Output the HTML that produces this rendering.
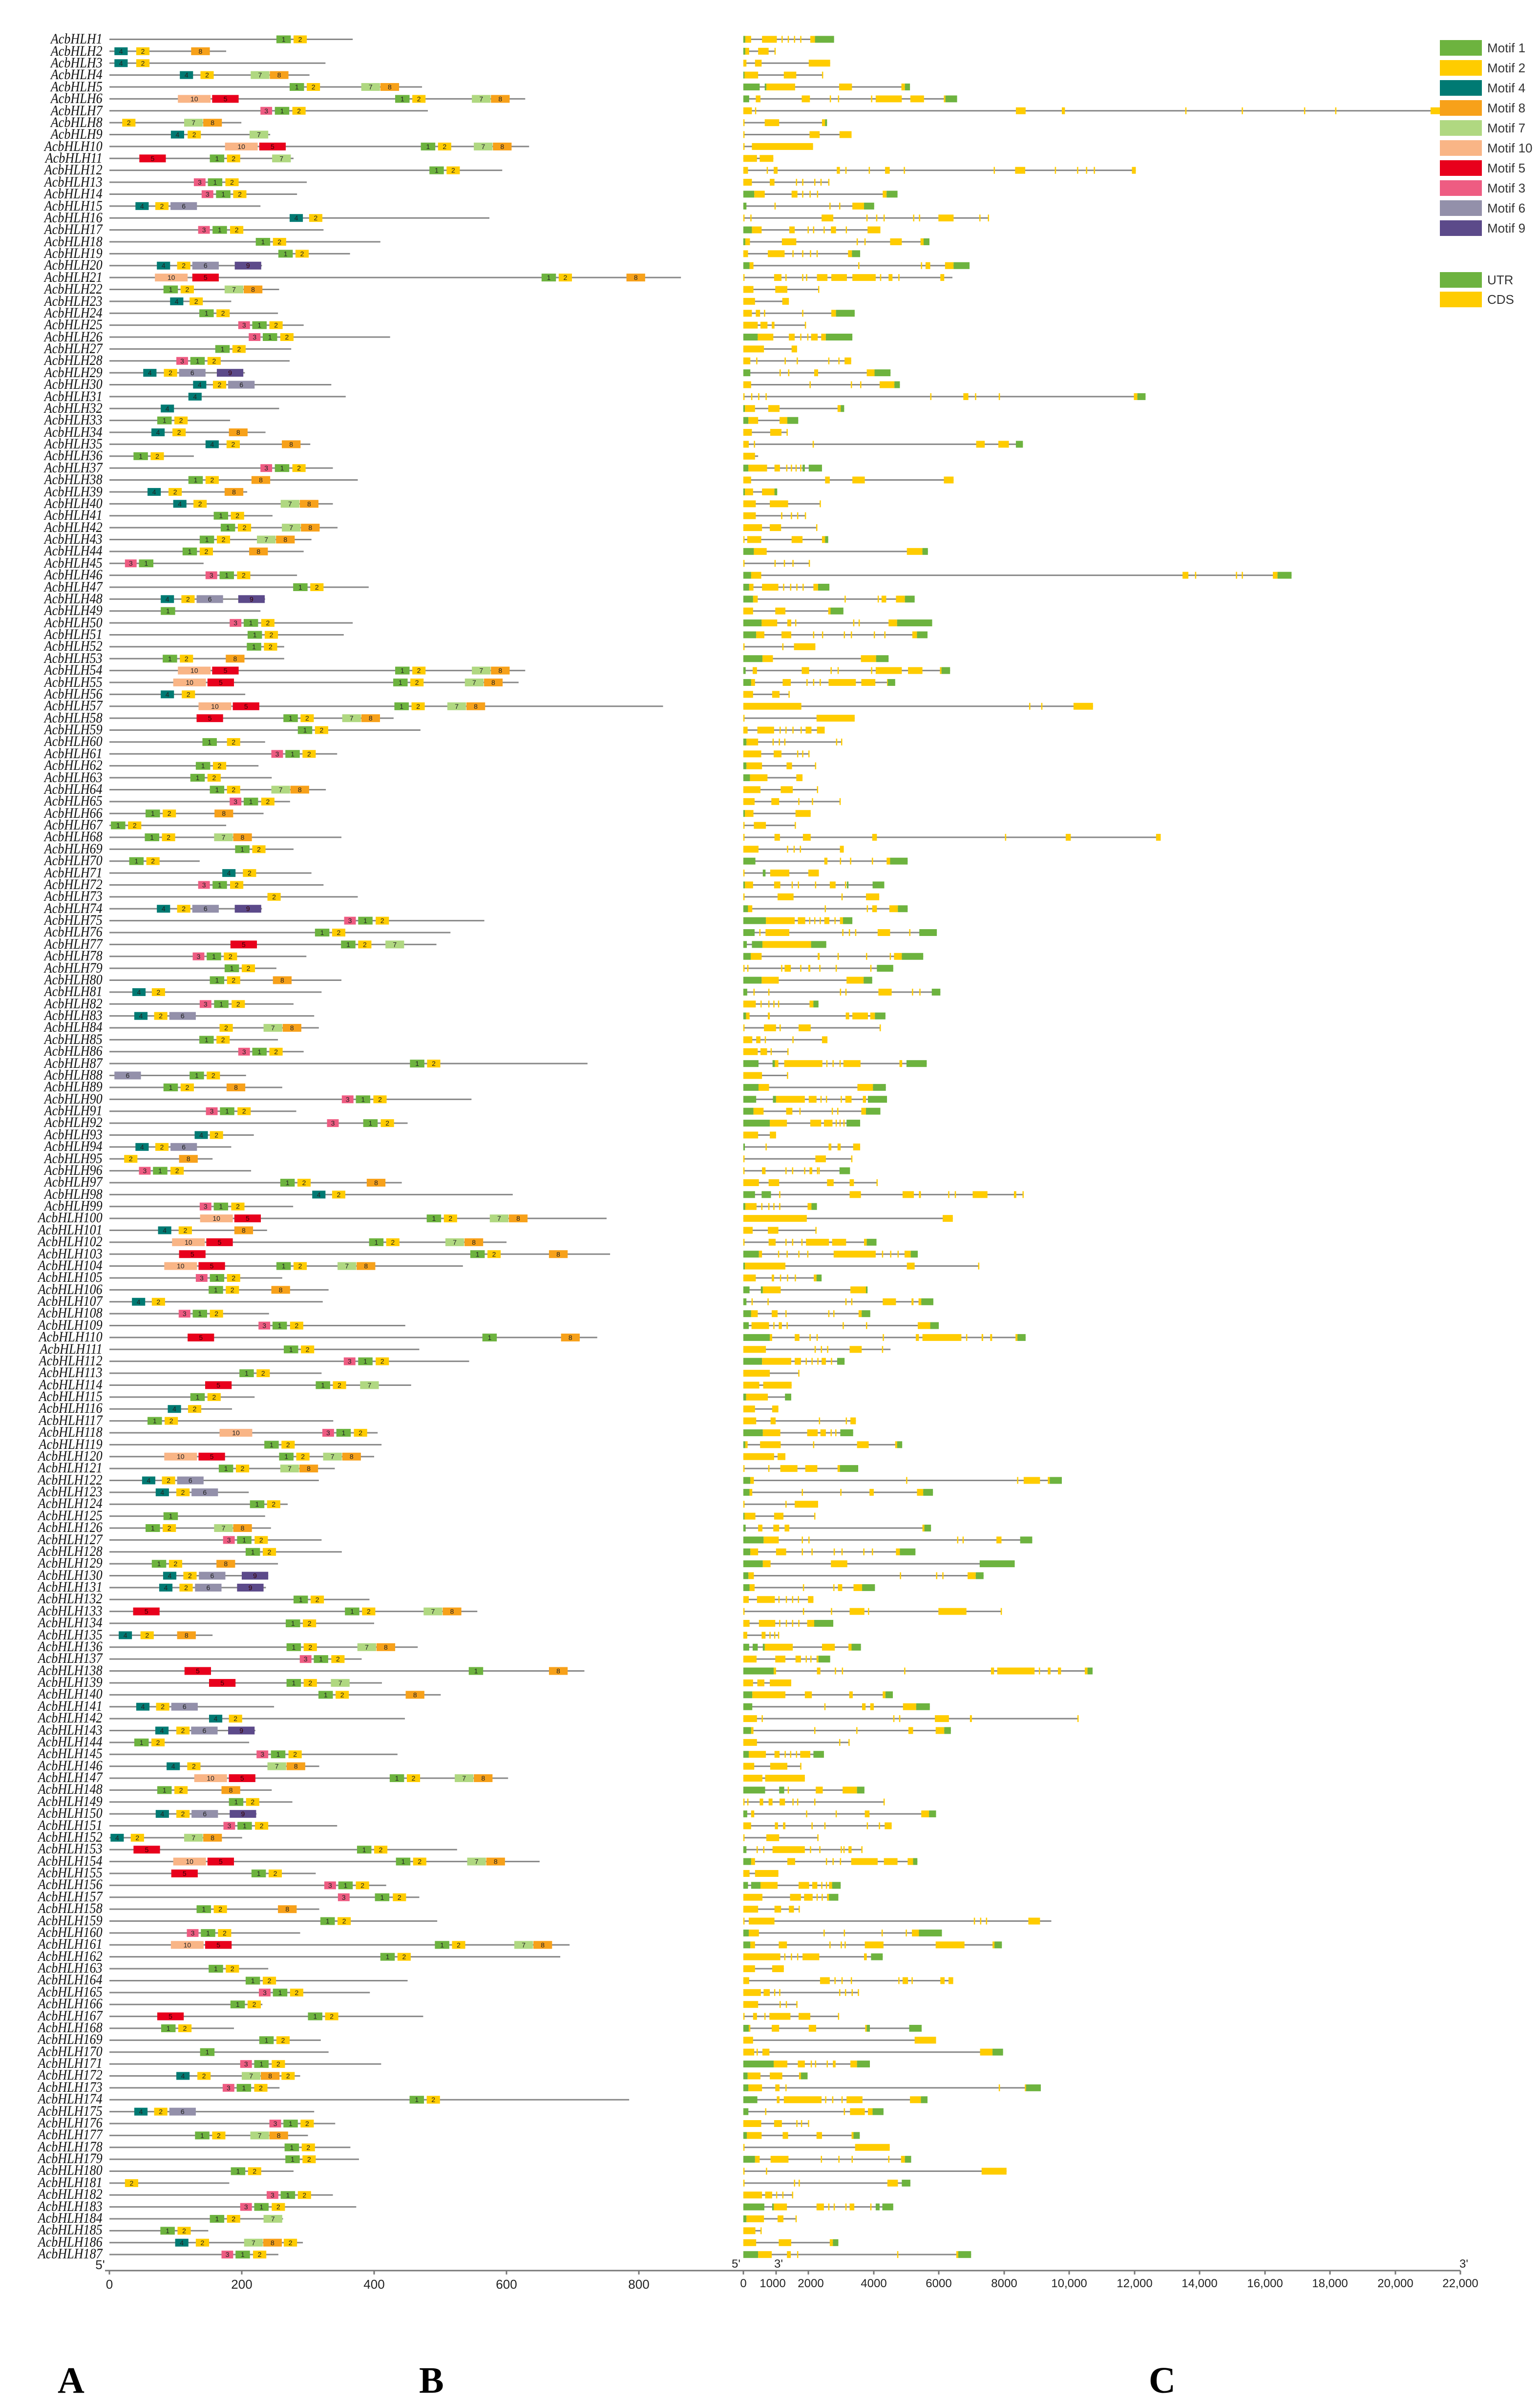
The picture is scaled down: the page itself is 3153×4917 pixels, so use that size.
<!DOCTYPE html>
<html><head><meta charset="utf-8">
<style>
html,body{margin:0;padding:0;background:#fff;}
body{width:3153px;height:4915px;position:relative;overflow:hidden;}
#names{position:absolute;right:2943px;top:68.3px;text-align:right;font-family:"Liberation Serif",serif;font-style:italic;font-size:30px;line-height:24.38px;color:#111;white-space:nowrap;transform:scaleX(0.87);transform-origin:right top;}
svg{position:absolute;left:0;top:0;}
.lab{position:absolute;font-family:"Liberation Serif",serif;font-weight:bold;font-size:76px;color:#000;}
</style></head><body>
<div id="names">AcbHLH1<br>AcbHLH2<br>AcbHLH3<br>AcbHLH4<br>AcbHLH5<br>AcbHLH6<br>AcbHLH7<br>AcbHLH8<br>AcbHLH9<br>AcbHLH10<br>AcbHLH11<br>AcbHLH12<br>AcbHLH13<br>AcbHLH14<br>AcbHLH15<br>AcbHLH16<br>AcbHLH17<br>AcbHLH18<br>AcbHLH19<br>AcbHLH20<br>AcbHLH21<br>AcbHLH22<br>AcbHLH23<br>AcbHLH24<br>AcbHLH25<br>AcbHLH26<br>AcbHLH27<br>AcbHLH28<br>AcbHLH29<br>AcbHLH30<br>AcbHLH31<br>AcbHLH32<br>AcbHLH33<br>AcbHLH34<br>AcbHLH35<br>AcbHLH36<br>AcbHLH37<br>AcbHLH38<br>AcbHLH39<br>AcbHLH40<br>AcbHLH41<br>AcbHLH42<br>AcbHLH43<br>AcbHLH44<br>AcbHLH45<br>AcbHLH46<br>AcbHLH47<br>AcbHLH48<br>AcbHLH49<br>AcbHLH50<br>AcbHLH51<br>AcbHLH52<br>AcbHLH53<br>AcbHLH54<br>AcbHLH55<br>AcbHLH56<br>AcbHLH57<br>AcbHLH58<br>AcbHLH59<br>AcbHLH60<br>AcbHLH61<br>AcbHLH62<br>AcbHLH63<br>AcbHLH64<br>AcbHLH65<br>AcbHLH66<br>AcbHLH67<br>AcbHLH68<br>AcbHLH69<br>AcbHLH70<br>AcbHLH71<br>AcbHLH72<br>AcbHLH73<br>AcbHLH74<br>AcbHLH75<br>AcbHLH76<br>AcbHLH77<br>AcbHLH78<br>AcbHLH79<br>AcbHLH80<br>AcbHLH81<br>AcbHLH82<br>AcbHLH83<br>AcbHLH84<br>AcbHLH85<br>AcbHLH86<br>AcbHLH87<br>AcbHLH88<br>AcbHLH89<br>AcbHLH90<br>AcbHLH91<br>AcbHLH92<br>AcbHLH93<br>AcbHLH94<br>AcbHLH95<br>AcbHLH96<br>AcbHLH97<br>AcbHLH98<br>AcbHLH99<br>AcbHLH100<br>AcbHLH101<br>AcbHLH102<br>AcbHLH103<br>AcbHLH104<br>AcbHLH105<br>AcbHLH106<br>AcbHLH107<br>AcbHLH108<br>AcbHLH109<br>AcbHLH110<br>AcbHLH111<br>AcbHLH112<br>AcbHLH113<br>AcbHLH114<br>AcbHLH115<br>AcbHLH116<br>AcbHLH117<br>AcbHLH118<br>AcbHLH119<br>AcbHLH120<br>AcbHLH121<br>AcbHLH122<br>AcbHLH123<br>AcbHLH124<br>AcbHLH125<br>AcbHLH126<br>AcbHLH127<br>AcbHLH128<br>AcbHLH129<br>AcbHLH130<br>AcbHLH131<br>AcbHLH132<br>AcbHLH133<br>AcbHLH134<br>AcbHLH135<br>AcbHLH136<br>AcbHLH137<br>AcbHLH138<br>AcbHLH139<br>AcbHLH140<br>AcbHLH141<br>AcbHLH142<br>AcbHLH143<br>AcbHLH144<br>AcbHLH145<br>AcbHLH146<br>AcbHLH147<br>AcbHLH148<br>AcbHLH149<br>AcbHLH150<br>AcbHLH151<br>AcbHLH152<br>AcbHLH153<br>AcbHLH154<br>AcbHLH155<br>AcbHLH156<br>AcbHLH157<br>AcbHLH158<br>AcbHLH159<br>AcbHLH160<br>AcbHLH161<br>AcbHLH162<br>AcbHLH163<br>AcbHLH164<br>AcbHLH165<br>AcbHLH166<br>AcbHLH167<br>AcbHLH168<br>AcbHLH169<br>AcbHLH170<br>AcbHLH171<br>AcbHLH172<br>AcbHLH173<br>AcbHLH174<br>AcbHLH175<br>AcbHLH176<br>AcbHLH177<br>AcbHLH178<br>AcbHLH179<br>AcbHLH180<br>AcbHLH181<br>AcbHLH182<br>AcbHLH183<br>AcbHLH184<br>AcbHLH185<br>AcbHLH186<br>AcbHLH187</div>

<svg id="sv" width="3153" height="4915" viewBox="0 0 3153 4915" xmlns="http://www.w3.org/2000/svg" font-family="Liberation Sans, sans-serif">
<g id="prot"></g>
<g id="gene"></g>
<g stroke="#777" stroke-width="3">
<line x1="215" y1="4648" x2="1495" y2="4648"/>
<line x1="224" y1="4648" x2="224" y2="4656"/><line x1="495" y1="4648" x2="495" y2="4656"/><line x1="766" y1="4648" x2="766" y2="4656"/><line x1="1037" y1="4648" x2="1037" y2="4656"/><line x1="1308" y1="4648" x2="1308" y2="4656"/>
</g>
<g font-size="26" fill="#222" text-anchor="middle">
<text x="205" y="4645">5'</text>
<text x="224" y="4685">0</text><text x="495" y="4685">200</text><text x="766" y="4685">400</text><text x="1037" y="4685">600</text><text x="1308" y="4685">800</text>
</g>
<g stroke="#777" stroke-width="3">
<line x1="1450" y1="4648" x2="2990" y2="4648"/>
<line x1="1522" y1="4648" x2="1522" y2="4656"/><line x1="1589" y1="4648" x2="1589" y2="4656"/><line x1="1655" y1="4648" x2="1655" y2="4656"/><line x1="1789" y1="4648" x2="1789" y2="4656"/><line x1="1922" y1="4648" x2="1922" y2="4656"/><line x1="2056" y1="4648" x2="2056" y2="4656"/><line x1="2189" y1="4648" x2="2189" y2="4656"/><line x1="2323" y1="4648" x2="2323" y2="4656"/><line x1="2456" y1="4648" x2="2456" y2="4656"/><line x1="2590" y1="4648" x2="2590" y2="4656"/><line x1="2723" y1="4648" x2="2723" y2="4656"/><line x1="2857" y1="4648" x2="2857" y2="4656"/><line x1="2990" y1="4648" x2="2990" y2="4656"/>
</g>
<g font-size="24" fill="#222" text-anchor="middle">
<text x="1507" y="4642">5'</text><text x="1594" y="4642">3'</text><text x="2997" y="4642">3'</text>
<text x="1522" y="4682">0</text><text x="1582" y="4682">1000</text><text x="1660" y="4682">2000</text><text x="1789" y="4682">4000</text><text x="1922" y="4682">6000</text><text x="2056" y="4682">8000</text><text x="2189" y="4682">10,000</text><text x="2323" y="4682">12,000</text><text x="2456" y="4682">14,000</text><text x="2590" y="4682">16,000</text><text x="2723" y="4682">18,000</text><text x="2857" y="4682">20,000</text><text x="2990" y="4682">22,000</text>
</g>
<g>
<rect x="2948" y="82" width="86" height="32" fill="#6db33f"/>
<rect x="2948" y="123" width="86" height="32" fill="#ffcc00"/>
<rect x="2948" y="164" width="86" height="32" fill="#007a73"/>
<rect x="2948" y="205" width="86" height="32" fill="#f7a11a"/>
<rect x="2948" y="246" width="86" height="32" fill="#b0d881"/>
<rect x="2948" y="287" width="86" height="32" fill="#f9b586"/>
<rect x="2948" y="328" width="86" height="32" fill="#e8001c"/>
<rect x="2948" y="369" width="86" height="32" fill="#ee5c82"/>
<rect x="2948" y="410" width="86" height="32" fill="#9390aa"/>
<rect x="2948" y="451" width="86" height="32" fill="#5c4a8a"/>
<rect x="2948" y="557" width="86" height="32" fill="#6db33f"/>
<rect x="2948" y="597" width="86" height="32" fill="#ffcc00"/>
</g>
<g font-size="26" fill="#333">
<text x="3045" y="107">Motif 1</text>
<text x="3045" y="148">Motif 2</text>
<text x="3045" y="189">Motif 4</text>
<text x="3045" y="230">Motif 8</text>
<text x="3045" y="271">Motif 7</text>
<text x="3045" y="312">Motif 10</text>
<text x="3045" y="353">Motif 5</text>
<text x="3045" y="394">Motif 3</text>
<text x="3045" y="435">Motif 6</text>
<text x="3045" y="476">Motif 9</text>
<text x="3045" y="582">UTR</text>
<text x="3045" y="622">CDS</text>
</g>
</svg>
<div class="lab" style="left:118px;top:4830px;">A</div>
<div class="lab" style="left:858px;top:4830px;">B</div>
<div class="lab" style="left:2352px;top:4830px;">C</div>

<script>
var P=[
"655|1:459,2:503","330|4:43,2:99,8:240","585|4:43,2:99","544|4:211,2:264,7:393,8:442","833|1:493,2:537,7:677,8:726",
"1098|10:206,5:294,1:764,2:808,7:961,8:1010","848|3:418,1:455,2:500","369|2:63,7:222,8:271","443|4:188,2:231,7:390",
"1108|10:327,5:415,1:830,2:874,7:966,8:1015","503|5:107,1:288,2:332,7:448","1039|1:852,2:896","537|3:247,1:283,2:328",
"512|3:267,1:304,2:348","418|4:97,2:148,6:187","1006|4:493,2:543","580|3:258,1:295,2:340","726|1:406,2:450","648|1:464,2:508",
"422|4:152,2:204,6:243,9:352","1498|10:147,5:243,1:1140,2:1184,8:1358","466|1:169,2:213,7:326,8:375","343|4:186,2:236",
"463|1:261,2:305","529|3:361,1:397,2:441","751|3:388,1:424,2:469","497|1:302,2:346","493|3:202,1:238,2:282",
"378|4:117,2:170,6:209,9:306","600|4:245,2:296,6:335","637|4:233","466|4:162","340|1:153,2:197","431|4:138,2:192,8:337",
"546|4:277,2:331,8:473","247|1:92,2:136","604|3:418,1:455,2:500","668|1:233,2:277,8:395","384|4:128,2:182,8:326",
"604|4:194,2:246,7:470,8:519","449|1:298,2:342","616|1:316,2:360,7:473,8:522","549|1:262,2:306,7:409,8:458",
"529|1:218,2:262,8:389","272|3:70,1:106","512|3:277,1:313,2:358","696|1:502,2:546",
"430|4:162,2:215,6:254,9:361","418|1:162","655|3:339,1:375,2:420","632|1:385,2:429","479|1:383,2:427","479|1:167,2:211,8:329",
"1098|10:206,5:294,1:764,2:808,7:961,8:1010","1081|10:194,5:282,1:759,2:803,7:943,8:992","379|4:162,2:216",
"1452|10:259,5:347,1:762,2:806,7:898,8:947","760|5:254,1:477,2:521,7:628,8:677","829|1:514,2:558","430|1:269,2:332",
"615|3:446,1:482,2:526","413|1:252,2:296","447|1:238,2:282","586|1:288,2:332,7:446,8:495","494|3:339,1:375,2:420",
"426|1:123,2:167,8:300","330|1:34,2:78","626|1:121,2:165,7:299,8:348","503|1:353,2:397","262|1:81,2:125","549|4:320,2:373",
"580|3:258,1:295,2:340","668|2:436","422|4:152,2:204,6:243,9:352","993|3:633,1:669,2:714","906|1:558,2:602",
"870|5:341,1:625,2:669,7:739","536|3:244,1:280,2:324","459|1:326,2:370","626|1:288,2:332,8:450","575|4:89,2:139",
"503|3:262,1:299,2:344","556|4:94,2:145,6:184","568|2:313,7:426,8:475","463|1:261,2:305","529|3:361,1:397,2:441",
"1258|1:802,2:846","381|6:43,1:236,2:280","474|1:169,2:213,8:331","960|3:627,1:663,2:708","510|3:278,1:314,2:359",
"796|3:589,1:682,2:727","401|4:249,2:288","343|4:97,2:148,6:187",
"295|2:68,8:209","394|3:106,1:142,2:187","781|1:469,2:513,8:691","1066|4:551,2:602","502|3:262,1:298,2:343",
"1307|10:263,5:351,1:845,2:889,7:1007,8:1056","435|4:155,2:208,8:351","1050|10:191,5:279,1:697,2:741,7:893,8:942",
"1316|5:209,1:957,2:1001,8:1159","938|10:171,5:259,1:459,2:503,7:616,8:665","474|3:252,1:288,2:332","593|1:285,2:329,8:446",
"578|4:88,2:139","440|3:208,1:244,2:288","790|3:413,1:449,2:494","1283|5:231,1:988,8:1190","826|1:478,2:522",
"954|3:632,1:669,2:714","575|1:364,2:408","805|5:276,1:560,2:604,7:674","403|1:238,2:282","345|4:180,2:232","605|1:128,2:172",
"719|10:313,3:577,1:613,2:658","729|1:428,2:472","710|10:171,5:259,1:466,2:510,7:579,8:628","609|1:311,2:355,7:469,8:518",
"568|4:114,2:165,6:204","388|4:149,2:202,6:241","488|1:391,2:435","430|1:169","445|1:123,2:167,7:299,8:348",
"575|3:322,1:358,2:403","627|1:380,2:424","463|1:139,2:183,8:305","438|4:168,2:220,6:260,9:370","432|4:158,2:210,6:250,9:358",
"698|1:503,2:547","975|5:91,1:635,2:679,7:837,8:886","710|1:483,2:527","295|4:54,2:110,8:204","822|1:485,2:529,7:667,8:716",
"678|3:519,1:555,2:600","1250|5:223,1:953,8:1159","730|5:286,1:485,2:529,7:599","881|1:567,2:611,8:791","453|4:99,2:150,6:189",
"789|4:286,2:337","405|4:148,2:202,6:240,9:335","389|1:94,2:138","770|3:408,1:445,2:490","569|4:177,2:230,7:436,8:485",
"1054|10:248,5:337,1:750,2:794,7:917,8:966","447|1:153,2:197,8:318","500|1:337,2:381","408|4:149,2:202,6:241,9:339",
"615|3:323,1:359,2:404","371|4:33,2:85,7:222,8:271","923|5:92,1:666,2:710","1135|10:194,5:282,1:766,2:810,7:949,8:998",
"560|5:189,1:395,2:439","741|3:582,1:618,2:663","826|3:617,1:712,2:758","569|1:254,2:298,8:463","872|1:572,2:616",
"520|3:229,1:265,2:309","1212|10:188,5:276,1:866,2:910,7:1070,8:1119","1188|1:726,2:770","438|1:285,2:329","796|1:380,2:424",
"699|3:414,1:450,2:494","423|1:341,2:385","836|5:153,1:540,2:584","350|1:163,2:207","573|1:415,2:459","593|1:263",
"728|3:366,1:402,2:447","520|4:202,2:256,7:370,8:419,2:472","467|3:321,1:357,2:402","1365|1:801,2:845","556|4:94,2:145,6:184",
"610|3:441,1:477,2:521","540|1:250,2:294,7:392,8:441","649|1:480,2:524","671|1:482,2:526","503|1:342,2:386","338|2:70",
"604|3:434,1:470,2:514","664|3:366,1:402,2:447","476|1:288,2:332,7:426","284|1:161,2:205","527|4:199,2:252,7:376,8:425,2:478",
"464|3:318,1:354,2:399"];
var G=[
"40g45,45y60,88y126,138t,154t,170t,186t,212y224,224g273","40g45,45y55,78y105,120t","40y48,70y87,208y263","40g43,43y78,144y176,242t",
"40g82,95g99,99y173,286y319,446y455,455g468","40g55,72y84,190y211,262t,283t,368t,380y447,469y504,555y559,559g589",
"40y62,70t,740y765,858y866,1175t,1320t,1480t,1560t,1805y1890,1890y1900","40t,95y132,242y250,250g255","40t,210y236,287y318","40t,62y219","40y75,82y117",
"40y52,100t,118y128,280y288,302t,362t,404y416,452t,683t,738y764,840t,897t,920t,940t,1038y1048","40y62,108y120,175t,191t,222t,238t,258t",
"40g68,68y95,164y179,191t,210t,229t,398y408,408g436","40g48,120t,261t,286t,320y350,350g376",
"40t,58t,241y271,356t,381t,400t,476t,491t,541y580,646t,668t","40g62,62y87,158y172,205t,219t,246t,265y278,303t,359y392",
"40g45,45y57,139y176,331t,351t,417y447,495y503,503g518","40y52,103y146,166t,191t,211t,228t,309y319,319g340",
"40g56,56y66,335t,496t,508y520,558y580,580g621","40t,119y138,148t,191t,201t,229y256,266y306,320y380,391t,413y423,438t,546y556,E577",
"40y66,122y153,232t","40y70,140y157","40y62,72y83,93t,191t,266y278,278g326","40y77,84y102,113y120,198t",
"40g77,77y117,157y172,186t,204t,214y231,240y252,252g320","40y93,164y178","40y58,73t,146t,177t,258t,284t,300y317",
"40g58,133t,155t,222y232,357y377,377g418","40y60,210t,316t,340t,390y428,428g442",
"40t,60t,78t,97t,520t,605y618,635t,696t,1043y1052,1052g1073","40g44,44y70,104y133,282y290,290g299","40g53,53y78,133y153,153g181",
"40y62,109y138,151t","40y54,67t,218t,638y660,695y722,740g758","40y70,E78","40g53,53y101,120y134,150t,162t,174t,186t,192g198,208g242",
"40y60,250y262,320y352,555y580","40g44,44y65,88y120,120g127","40y72,108y155,236t","40y72,137t,162t,178t,198t","40y88,108y137,227t",
"40t,50y86,164y192,242y250,250g258","40g67,67y100,460y500,500g514","40t,120t,144t,166t,208t",
"40g60,60y86,1168y1183,1200t,1305t,1320t,1400y1412,1412g1448","40g55,55y66,88y130,142t,160t,176t,192t,220y232,232g261",
"40g65,65y77,300t,385t,395y407,432y455,455g480","40y65,122y148,258y264,264g297","40g87,87y127,153y163,173t,322t,336t,413y435,435g525",
"40g73,73y94,138y163,219t,242t,298t,316t,375t,402t,474y486,486g513","40t,140t,170y225","40g89,89y116,342y381,381g413",
"40g46,64y75,190y209,264t,282t,368t,380y447,463y500,545y549,549g571","40g60,60y70,141y162,202t,219t,236t,259y329,343y379,409y411,411g430",
"40y65,114y133,156t","40y189,774t,805t,888y938","40t,228y326","40y51,76y119,133t,148t,166t,187t,200y215,229y249",
"40g48,48y78,115t,131t,145t,278t,291t","40y86,118y138,178t,191t,207t","40g48,48y88,151y165,224t","40g57,57y102,176y192",
"40y84,136y167,229t","40y69,112y132,181t,216t,287t","40g44,44y66,174y213","40t,67y98,172t",
"40t,120y134,193y213,371y383,712t,868y881,1100y1112","40y79,152t,169t,185t,288y298","40g71,248y256,288t,314t,370t,408y417,417g462",
"40t,90g97,109y158,207y234","40g44,44y65,119y135,164t,180t,224t,262y277,301t,306g310,372g402","40t,128y169,292t,355y389",
"40g52,52y63,249t,357t,371y383,415y437,437g462","40g98,98y172,180y199,209t,222t,236t,248y261,274t,288y296,296g320",
"40g69,81t,97y158,294t,311t,327t,385y417,466t,492g537","40g49,62g89,89y214,214g253","40g59,59y87,231y236,282t,355t,416t,427y447,447g502",
"40t,50t,137t,146y162,186t,207y212,235t,277t,366t,383g425","40g87,87y131,305y349,349g371",
"40g50,66t,104t,288t,302t,387y421,473t,492t,524g546","40y72,84t,104t,117t,129t,210y220,220g233",
"40g47,47y56,103y108,303y312,320y360,366y378,378g405","40t,93y124,133t,182y213,390t","40y63,73y84,95t,166t,242y256",
"40y77,84y101,110t,153t","40g79,115g121,121y130,145y243,253t,269t,287t,297y341,441y448,459g511","40y88,152t",
"40g79,79y106,333y373,373g406","40g73,116g124,124y198,208y228,238t,252t,290t,302y318,347y355,360g409",
"40g66,66y92,150y166,184t,267t,281t,343y355,355g392","40g108,108y152,212y240,247y269,277t,287t,297t,305g340","40y78,108y124",
"40g44,97t,259y266,282y290,322y340",
"40t,225y252,317t","40t,88y97,148t,165t,196t,210y217,229t,233t,287g314","40y80,105y132,255y272,313y324,382t",
"40g70,87g111,132t,313y342,449y478,491y496,566t,583t,629y667,735y741,757t","40g45,45y74,86t,104t,117t,132t,205y215,215g229",
"40y203,552y578","40y64,103y130,225t","40t,105y123,148t,165t,189t,201y260,268y304,350y357,357g382",
"40g80,80y88,129t,151t,181t,204t,272y380,396t,417t,436t,454y470,470g488","40g44,44y148,460y480,643t",
"40y72,113y119,134t,152t,172t,221y228,228g241","40g56,85g90,90y136,315y355,355g359","40g48,61t,102t,302t,317t,398y432,472y477,490y497,497g528",
"40g60,60y77,113y128,148t,258t,271t,336y344,344g366","40g54,61y106,117t,131y139,151t,295t,355t,488y520,520g542",
"40g108,108y114,172y184,210t,228t,398t,483y491,500y600,612t,652y656,674y679,739y744,744g765","40y98,223t,239t,255t,313y344,396t,E418",
"40g88,88y163,172y188,200t,215t,230t,241y252,265t,281g300","40y108,181t","40y81,91y164","40g47,47y103,147g163","40y70,114y130",
"40y73,110y123,234t,303t,315y329","40g90,90y135,204y231,238y252,264t,276t,289g322","40g45,45y51,83y136,219t,332y362,430y435,435g448",
"40y119,128y148","40t,104t,135y179,199y230,282y288,288g335","40g58,58y67,458t,743t,760y802,822y827,827g858",
"40g56,56y63,190t,289t,364y375,486y502,502g527","40t,148t,172y232","40g43,43y71,119y143,222t","40g46,78y89,117y132,146y158,500y505,505g522",
"40g92,92y131,190t,207t,589t,603t,690y703,751g782","40g58,58y78,124y150,190t,215t,272t,292t,348t,370t,432y442,442g482",
"40g90,90y110,265y307,647g737","40g53,53y67,442t,535t,551t,616y637,637g657","40g56,56y69,193t,271t,283y294,323y345,345g378",
"40y54,75y121,130t,149t,165t,180t,206y220","40t,193t,265t,313y351,360t,541y613,701t","40y56,80y122,132t,149t,165t,181t,204y222,222g271",
"40y50,87y97,107t,119t,129t","40g55,64g77,90g95,95y167,242y275,310y318,318g342","40y74,122y148,174y188,200t,212t,228y233,233g263",
"40g118,118y124,229y238,275t,293t,453t,676y684,692y788,799t,822y829,848y856,917y924,924g937","40y65,76y94,108y163",
"40g63,63y148,198y216,312y321,398y405,405g424","40g63,248t,345y354,366y375,450y484,484g519",
"40y75,87t,425t,440t,532y568,622y627,898t","40g60,60y66,222t,330t,464y476,534y556,556g573","40y75,286t,310t",
"40g54,54y98,120y133,146t,160t,175t,186y212,220g247","40y68,109y153,186t","40y89,96y198","40g96,132g145,154t,226y244,295y332,332g351",
"40t,50t,82y91,105y115,133y147,166t,178t,222t,400t","40g50,60y68,201t,277t,352y364,497y517,517g535",
"40y60,121y129,142y148,215t,248t,357t,388t,403y421","40t,99y132,230t","40g48,74t,91t,115y198,211t,235t,290t,297t,310y318,343t",
"40g60,60y70,153y173,252t,269t,288t,317y385,401y436,462y476,476g487","40y56,70y130",
"40g52,60g84,84y128,182y209,217y230,240t,252t,260y268,268g290","40y89,160y188,196y218,228t,241t,255y260,260g284",
"40y78,120y137,157y170,182t","40t,54y120,632t,648t,663t,772y802,E831","40g54,54y80,246t,298t,395t,457t,473y491,491g550",
"40g58,58y70,131y152,261t,290t,300t,352y400,534y608,680y685,685g704","40y135,145t,162t,178t,192y235,350y357,368g398","40y70,114y144",
"40y55,237y262,274t,292t,316t,438t,449y463,472t,546y557,567y579","40y85,92y108,119t,132t,286t,301t,318t,334t","40y78,133t,149t,176t",
"40t,65y75,94t,107y161,182y212,283t","40g54,54y58,113y132,208y227,353y357,357g365,466g498","40y65,480y535",
"40y68,74t,89y107,648y680,680g707","40g118,118y153,180y198,213t,224t,254t,270y277,315y332,332g365","40g51,51y84,108y140,183y188,188g205",
"40g53,53y88,122y133,148t,696t,763y766,766g804","40g76,126y133,144y241,250t,268t,292t,305y346,468y496,496g513",
"40g53,96t,298t,314y352,360y372,372g400","40y86,119y139,176t,188t,206t","40g49,49y87,141y155,228y242,318y323,323g339","40t,327y416",
"40g70,70y82,110y156,239t,284t,318t,412t,445y455,455g471","40t,98t,652y716","40t,170t,182t,410y437,447g469","40y88,96y114,124t,140t,165t",
"40g94,114g118,118y152,228y247,258t,272t,302t,313y325,366t,380g390,397g425","40g48,48y93,128y143,174t","40y71,84t",
"40y73,131y163,262y270,270g284","40g78,78y113,152y162,178t,435t,587y592,592g625"];
var MC={1:"#6db33f",2:"#ffcc00",3:"#ee5c82",4:"#007a73",5:"#e8001c",6:"#9390aa",7:"#b0d881",8:"#f7a11a",9:"#5c4a8a",10:"#f9b586"};
var MW={1:37,2:34,3:30,4:34,5:68,6:68,7:48,8:48,9:68,10:84};
var S=1.2544,NS="http://www.w3.org/2000/svg";
function el(p,t,a,txt){var e=document.createElementNS(NS,t);for(var k in a)e.setAttribute(k,a[k]);if(txt!=null)e.textContent=txt;p.appendChild(e);return e;}
var pg=document.getElementById("prot"),gg=document.getElementById("gene");
for(var i=0;i<P.length;i++){
 var y=80.5+i*24.38;var pr=P[i].split("|");var end=200+(+pr[0])/S;
 el(pg,"line",{x1:224,y1:y,x2:end,y2:y,stroke:"#888","stroke-width":3});
 if(pr[1]){pr[1].split(",").forEach(function(m){var q=m.split(":");var id=+q[0],x=200+(+q[1])/S,w=MW[id]/S;
  el(pg,"rect",{x:x,y:y-8,width:w,height:16,fill:MC[id]});
  el(pg,"text",{x:x+w/2,y:y+5,"font-size":14,"text-anchor":"middle",fill:id==5||id==9?"#300":"#222"},String(id));});}
}
for(var i=0;i<G.length;i++){
 var y=80.5+i*24.38;var toks=G[i].split(",");var mx=40;var items=[];
 toks.forEach(function(t){var m;
  if(t[0]=="E"){mx=Math.max(mx,+t.slice(1));return;}
  if(m=t.match(/^(\d+)t$/)){items.push([+m[1],+m[1]+3,"y"]);mx=Math.max(mx,+m[1]+3);return;}
  if(m=t.match(/^(\d+)([gy])(\d+)$/)){items.push([+m[1],+m[3],m[2]]);mx=Math.max(mx,+m[3]);}
 });
 el(gg,"line",{x1:1490+40/S,y1:y,x2:1490+mx/S,y2:y,stroke:"#888","stroke-width":3});
 items.forEach(function(b){var x1=1490+b[0]/S,x2=1490+b[1]/S;
  el(gg,"rect",{x:x1,y:y-7,width:Math.max(2.5,x2-x1),height:14,fill:b[2]=="g"?"#6db33f":"#ffcc00"});});
}
</script>
</body></html>
